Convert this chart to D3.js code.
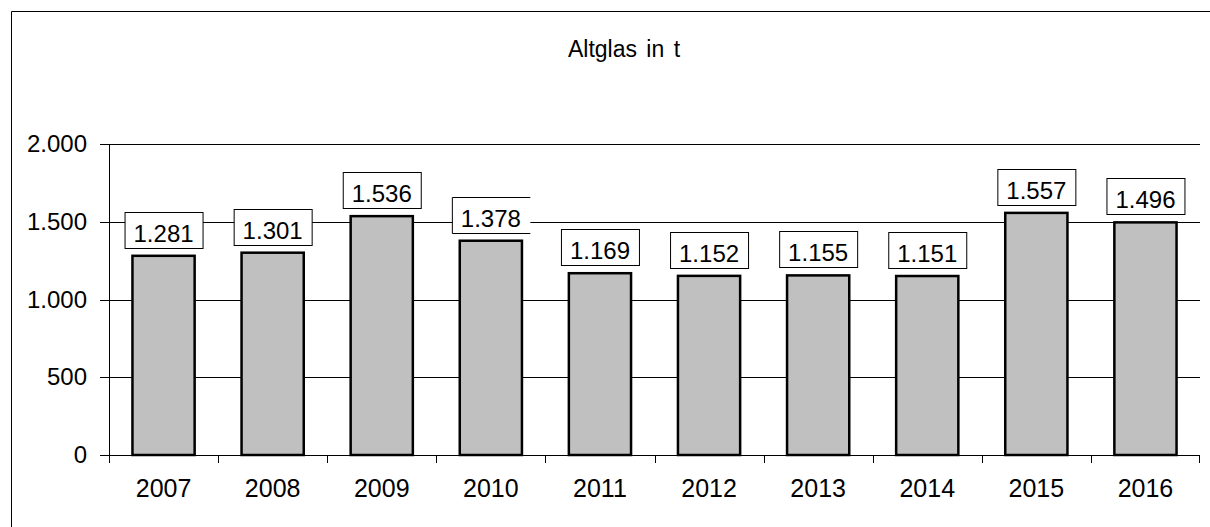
<!DOCTYPE html>
<html>
<head>
<meta charset="utf-8">
<script src="https://cdn.jsdelivr.net/npm/d3@7"></script>
<style>
  body { margin: 0; background: #fff; }
  text { font-family: "Liberation Sans", Arial, sans-serif; fill: #000; }
</style>
</head>
<body>
<div class="chart"></div>
<script>
var years = ["2007", "2008", "2009", "2010", "2011", "2012", "2013", "2014", "2015", "2016"];
var tonnes = [1281, 1301, 1536, 1378, 1169, 1152, 1155, 1151, 1557, 1496];
var yTicks = [0, 500, 1000, 1500, 2000];

var svgWidth = 1210;
var svgHeight = 527;

var margin = { top: 144, right: 10, bottom: 72, left: 109 };
var width = svgWidth - margin.left - margin.right;
var height = svgHeight - margin.top - margin.bottom;

var fmt = d3.formatLocale({ decimal: ",", thousands: ".", grouping: [3], currency: ["", ""] }).format(",");

var svg = d3.select(".chart")
  .append("svg")
  .attr("width", svgWidth)
  .attr("height", svgHeight);

// outer frame
svg.append("path")
  .attr("d", "M11.5,527V11.5H1210")
  .attr("fill", "none")
  .attr("stroke", "#000")
  .attr("stroke-width", 1);

svg.append("text")
  .attr("x", 624)
  .attr("y", 57)
  .attr("text-anchor", "middle")
  .style("font-size", "23px")
  .style("word-spacing", "3px")
  .text("Altglas in t");

var chartGroup = svg.append("g")
  .attr("transform", `translate(${margin.left}, ${margin.top})`);

var xScale = d3.scaleBand()
  .domain(years)
  .range([0, width])
  .paddingInner(0.43)
  .paddingOuter(0.215);

var xTickScale = d3.scaleBand().domain(years).range([0, width]);

var yScale = d3.scaleLinear()
  .domain([0, 2000])
  .range([height, 0]);

// gridlines
chartGroup.append("g")
  .selectAll("line")
  .data(yTicks)
  .enter()
  .append("line")
  .attr("x1", -9)
  .attr("x2", width)
  .attr("y1", d => Math.round(yScale(d)) + 0.5)
  .attr("y2", d => Math.round(yScale(d)) + 0.5)
  .attr("stroke", "#000");

// y axis line
chartGroup.append("line")
  .attr("x1", 0.5).attr("x2", 0.5)
  .attr("y1", 0).attr("y2", height)
  .attr("stroke", "#000");

// y labels
chartGroup.append("g")
  .selectAll("text")
  .data(yTicks)
  .enter()
  .append("text")
  .attr("x", -22)
  .attr("y", d => yScale(d) + 8)
  .attr("text-anchor", "end")
  .style("font-size", "24px")
  .text(d => fmt(d));

// x category ticks
chartGroup.append("g")
  .selectAll("line")
  .data(years)
  .enter()
  .append("line")
  .attr("x1", d => Math.round(xTickScale(d)) + 0.5)
  .attr("x2", d => Math.round(xTickScale(d)) + 0.5)
  .attr("y1", height)
  .attr("y2", height + 8)
  .attr("stroke", "#000");

chartGroup.append("line")
  .attr("x1", width - 0.5).attr("x2", width - 0.5)
  .attr("y1", height).attr("y2", height + 8)
  .attr("stroke", "#000");

// x labels
chartGroup.append("g")
  .selectAll("text")
  .data(years)
  .enter()
  .append("text")
  .attr("x", d => xScale(d) + xScale.bandwidth() / 2)
  .attr("y", height + 42)
  .attr("text-anchor", "middle")
  .style("font-size", "25px")
  .text(d => d);

// bars
chartGroup.selectAll("rect.bar")
  .data(tonnes)
  .enter()
  .append("rect")
  .attr("class", "bar")
  .attr("x", (d, i) => xScale(years[i]))
  .attr("y", d => yScale(d))
  .attr("width", xScale.bandwidth())
  .attr("height", d => height - yScale(d))
  .attr("fill", "#c0c0c0")
  .attr("stroke", "#000")
  .attr("stroke-width", 2.5);

// value labels
var boxW = 78, boxH = 36;
var labels = chartGroup.selectAll("g.label")
  .data(tonnes)
  .enter()
  .append("g")
  .attr("class", "label")
  .attr("transform", (d, i) => `translate(${xScale(years[i]) + xScale.bandwidth() / 2}, ${Math.round(yScale(d))})`);

labels.append("rect")
  .attr("x", -boxW / 2 + 0.5)
  .attr("y", -43.5)
  .attr("width", boxW)
  .attr("height", boxH)
  .attr("fill", "#fff")
  .attr("stroke", "#000")
  .attr("stroke-width", 1)
  // the 2010 box has no right edge in the source
  .attr("stroke-dasharray", (d, i) => years[i] === "2010" ? `${boxW},${boxH},${boxW + boxH}` : null);

labels.append("text")
  .attr("text-anchor", "middle")
  .attr("y", -14)
  .style("font-size", "24px")
  .text(d => fmt(d));
</script>
</body>
</html>
